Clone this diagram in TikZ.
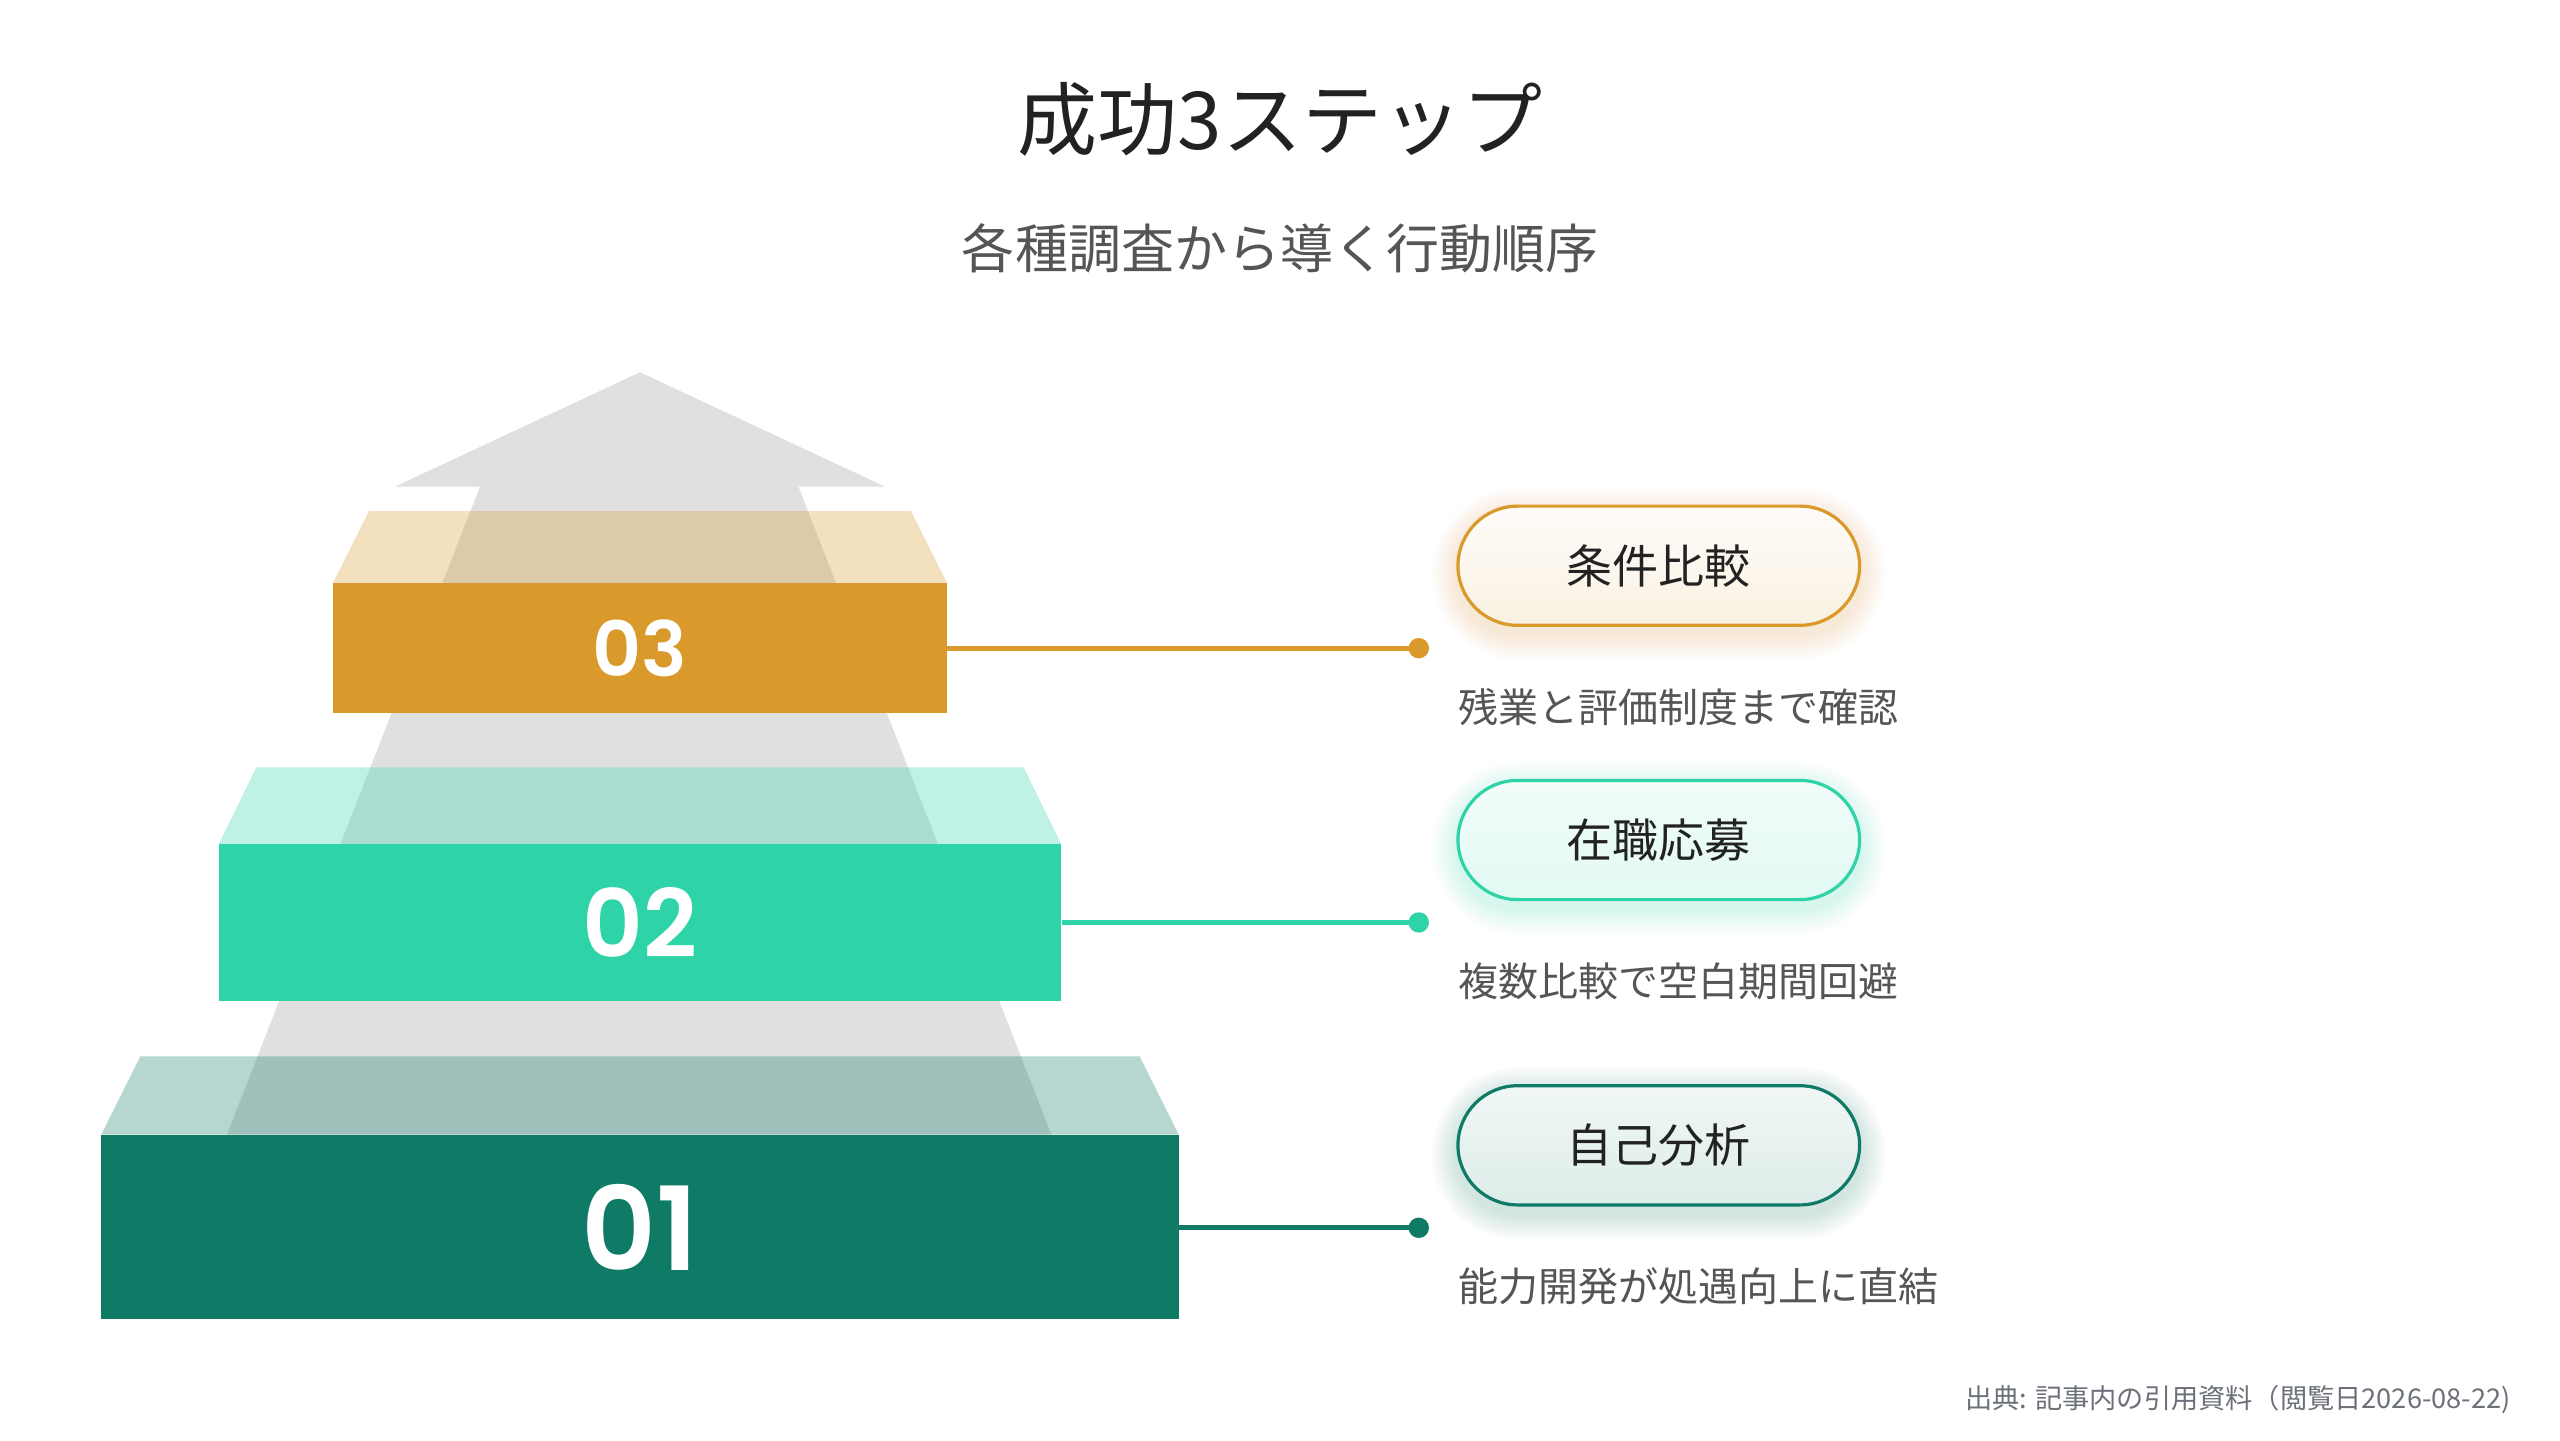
\documentclass[tikz,border=0pt]{standalone}
\usepackage{fontspec}
\setmainfont{Noto Sans CJK JP}
\newfontfamily\numfont{Poppins}[UprightFont={* SemiBold}]
\usetikzlibrary{shapes.misc}
\definecolor{cOr}{HTML}{D99A2B}
\definecolor{cTq}{HTML}{2ED4A8}
\definecolor{cDk}{HTML}{0F7A66}
\definecolor{cGr}{HTML}{E0E0E0}
\definecolor{cTitle}{HTML}{222222}
\definecolor{cSub}{HTML}{555555}
\definecolor{cFoot}{HTML}{6B7079}
\def\u{0.8163pt}
\tikzset{
  frontbox/.style={rectangle, inner sep=0pt, text=white, font=\numfont},
  topface/.style={fill opacity=0.3},
  conn/.style={line width=2.4pt},
  dotnode/.style={circle, inner sep=0pt, minimum size=12.5*\u},
  pill/.style={rounded rectangle, line width=1.6pt, minimum width=246*\u, minimum height=73*\u, inner sep=0pt, text=cTitle, font=\fontsize{23pt}{27pt}\selectfont},
  desc/.style={anchor=west, inner sep=0pt, text=cSub, font=\fontsize{20pt}{24pt}\selectfont}
}
\begin{document}
\begin{tikzpicture}[x=0.8163pt,y=-0.8163pt]
\useasboundingbox (0,0) rectangle (1568,882);
\fill[white] (0,0) rectangle (1568,882);

% titles
\node[text=cTitle, font=\fontsize{40pt}{46pt}\selectfont] (title) at (784,73) {成功3ステップ};
\node[text=cSub, font=\fontsize{26.5pt}{30pt}\selectfont] (subtitle) at (784,152) {各種調査から導く行動順序};

% arrow
\fill[cGr] (392,228) -- (542,298) -- (489,298) -- (644,695) -- (139,695) -- (294,298) -- (242,298) -- cycle;

% top faces
\fill[cOr, topface] (226,313) -- (558,313) -- (580,357) -- (204,357) -- cycle;
\fill[cTq, topface] (157,470) -- (627,470) -- (650,517) -- (134,517) -- cycle;
\fill[cDk, topface] (86,647) -- (698,647) -- (722,695) -- (62,695) -- cycle;

% front boxes
\node[frontbox, fill=cOr, minimum width=376*\u, minimum height=80*\u, font=\numfont\fontsize{38pt}{44pt}\selectfont] (b3) at (392,397) {03};
\node[frontbox, fill=cTq, minimum width=516*\u, minimum height=96*\u, font=\numfont\fontsize{47pt}{54pt}\selectfont] (b2) at (392,565) {02};
\node[frontbox, fill=cDk, minimum width=660*\u, minimum height=113*\u, font=\numfont\fontsize{58pt}{66pt}\selectfont] (b1) at (392,751.5) {01};

% dots
\node[dotnode, fill=cOr] (d3) at (869,397) {};
\node[dotnode, fill=cTq] (d2) at (869,565) {};
\node[dotnode, fill=cDk] (d1) at (869,752) {};

% connectors
\draw[conn, cOr] (b3.east) -- (d3.center);
\draw[conn, cTq] (b2.east) -- (d2.center);
\draw[conn, cDk] (b1.east |- d1) -- (d1.center);

% pill glows
\foreach \cy/\gc in {346.5/cOr, 514.5/cTq, 701.5/cDk}{
  \foreach \i in {1,...,8}{
    \fill[\gc, opacity=0.022, rounded corners=(36.5+2*\i)*\u]
      (893-2*\i, \cy-36.5-2*\i+5) rectangle (1139+2*\i, \cy+36.5+2*\i+5);
  }
}

% pills
\node[pill, draw=cOr, top color=white!70!cOr!8, bottom color=cOr!14] (p3) at (1016,346.5) {条件比較};
\node[pill, draw=cTq, top color=cTq!6, bottom color=cTq!14] (p2) at (1016,514.5) {在職応募};
\node[pill, draw=cDk, top color=cDk!6, bottom color=cDk!14] (p1) at (1016,701.5) {自己分析};

% descriptions
\node[desc] (t3) at (893,433) {残業と評価制度まで確認};
\node[desc] (t2) at (893,601) {複数比較で空白期間回避};
\node[desc] (t1) at (893,788) {能力開発が処遇向上に直結};

% footnote
\node[anchor=east, inner sep=0pt, text=cFoot, font=\fontsize{13.6pt}{16pt}\selectfont] (foot) at (1538,857) {出典: 記事内の引用資料（閲覧日2026-08-22)};
\end{tikzpicture}
\end{document}
